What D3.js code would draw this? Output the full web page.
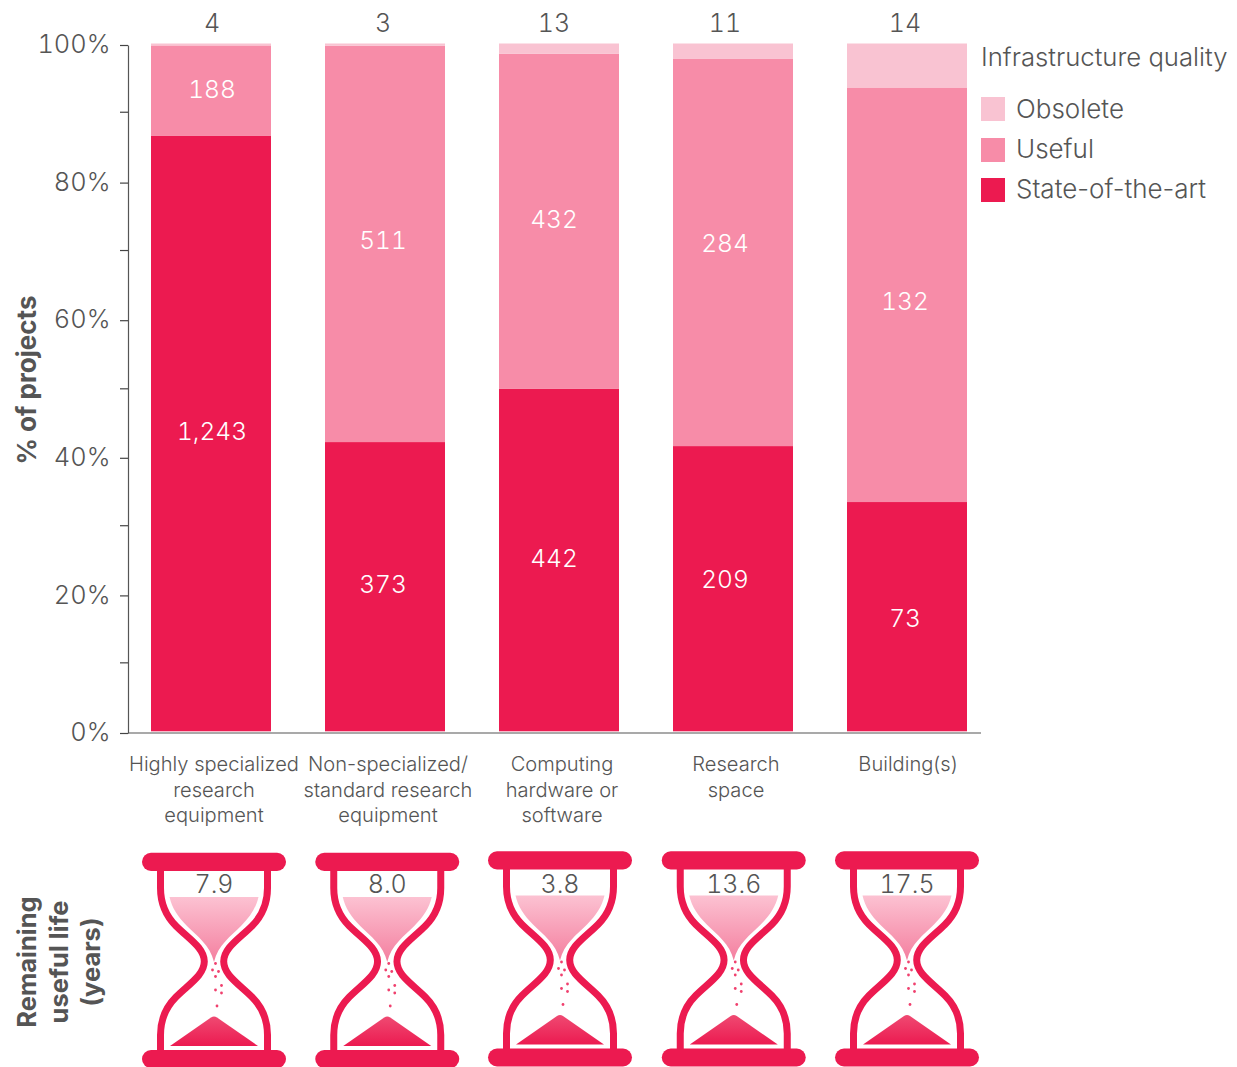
<!DOCTYPE html>
<html><head><meta charset="utf-8">
<script src="https://cdn.jsdelivr.net/npm/d3@7"></script>
<style>
html,body{margin:0;padding:0;background:#fff}
svg{display:block}
text{font-family:Inter,"Noto Sans",sans-serif;font-weight:300;fill:#555}
text.num,.tick text{font-variant-numeric:tabular-nums}
</style></head><body><svg id="c" width="1237" height="1067"></svg>
<script>
const categories = [
  ["Highly specialized","research","equipment"],
  ["Non-specialized/","standard research","equipment"],
  ["Computing","hardware or","software"],
  ["Research","space"],
  ["Building(s)"]
];
const stateOfTheArt = [1243,373,442,209,73];
const useful = [188,511,432,284,132];
const obsolete = [4,3,13,11,14];
const remainingLife = ["7.9","8.0","3.8","13.6","17.5"];
const yMajorTicks = [0,20,40,60,80,100];
const yMinorTicks = [10.27,30.2,50.1,70.2,90.3];
const seriesNames = ["Obsolete","Useful","State-of-the-art"];
const seriesColors = ["#f9c3d2","#f78ca8","#ec1a50"];

// hand-placement nudges seen in the reference
const labelShift = [1,-2,-5,-8,-2];
const stateLabelNudge = [-2,-3,-2,-10,1];
const usefulLabelNudge = [-1.5,-4,-2,-9,6];
const catShift = [0,0.5,1,1.5,0];
const glassShiftX = [0,0,-0.5,0,0];
const glassShiftY = [0,0,-1.5,-1.5,-1.5];

const svg = d3.select("#c");
const idx = d3.range(categories.length);
const x = d3.scalePoint().domain(idx).range([211,907]);
const barW = 120;
const yAxisScale = d3.scaleLinear().domain([0,100]).range([733,45]);
const yBar = d3.scaleLinear().domain([0,1]).range([731.3,43.5]);

// axis
const axis = d3.axisLeft(yAxisScale).tickValues([...yMajorTicks,...yMinorTicks]).tickSize(0)
  .tickFormat(d=>yMajorTicks.includes(d)?d+"%":"");
const gA = svg.append("g").attr("transform","translate(128,0)").call(axis);
gA.select(".domain").attr("stroke","#555").attr("stroke-width",1.2);
gA.selectAll(".tick line").attr("x2",-8).attr("stroke","#444").attr("stroke-width",1.2);
gA.selectAll(".tick text").attr("x",-17.5).attr("dy","0.3em").attr("font-size",25.4)
  .style("font-family",'Inter,sans-serif').style("font-weight",300);
svg.append("line").attr("x1",128).attr("x2",981).attr("y1",733).attr("y2",733).attr("stroke","#555").attr("stroke-width",1.2);

// stacked bars
idx.forEach(i=>{
  const total = stateOfTheArt[i]+useful[i]+obsolete[i];
  const a = stateOfTheArt[i]/total, b = useful[i]/total;
  const cx = x(i), lx = cx+labelShift[i];
  const g = svg.append("g");
  const segs = [[0,a,seriesColors[2]],[a,a+b,seriesColors[1]],[a+b,1,seriesColors[0]]];
  g.selectAll("rect").data(segs).join("rect")
    .attr("x",cx-barW/2).attr("width",barW)
    .attr("y",d=>yBar(d[1])).attr("height",d=>yBar(d[0])-yBar(d[1]))
    .attr("fill",d=>d[2]);
  g.append("text").attr("class","num").attr("x",lx).attr("y",yBar(a/2)+9+stateLabelNudge[i]).attr("text-anchor","middle")
    .attr("font-size",24.5).style("fill","#fff").text(d3.format(",")(stateOfTheArt[i]));
  g.append("text").attr("class","num").attr("x",lx).attr("y",yBar(a+b/2)+9+usefulLabelNudge[i]).attr("text-anchor","middle")
    .attr("font-size",24.5).style("fill","#fff").text(useful[i]);
  g.append("text").attr("class","num").attr("x",lx).attr("y",32).attr("text-anchor","middle")
    .attr("font-size",25).text(obsolete[i]);
});

// category labels
const xCat = d3.scalePoint().domain(idx).range([214,908]);
categories.forEach((lines,i)=>{
  lines.forEach((t,j)=>{
    svg.append("text").attr("x",xCat(i)+catShift[i]).attr("y",771+j*25.5).attr("text-anchor","middle")
      .attr("font-size",20.1).text(t);
  });
});

// legend
svg.append("text").attr("x",981).attr("y",66).attr("font-size",25.7).text("Infrastructure quality");
seriesNames.forEach((n,i)=>{
  const rectY = [97,138,178][i], baseY = [118,158,198][i];
  svg.append("rect").attr("x",981).attr("y",rectY).attr("width",24).attr("height",24).attr("fill",seriesColors[i]);
  svg.append("text").attr("x",1016).attr("y",baseY).attr("font-size",26).text(n);
});

// axis titles
svg.append("text").attr("transform","translate(36,380) rotate(-90)").attr("text-anchor","middle")
  .attr("font-size",26).style("font-weight",700).text("% of projects");
["Remaining","useful life","(years)"].forEach((t,i)=>{
  svg.append("text").attr("transform",`translate(${36+i*32},962) rotate(-90)`).attr("text-anchor","middle")
    .attr("font-size",25.5).style("font-weight",700).text(t);
});

// hourglasses
const defs = svg.append("defs");
const g1 = defs.append("linearGradient").attr("id","sandTop").attr("x1",0).attr("x2",0).attr("y1",0).attr("y2",1);
g1.append("stop").attr("offset",0).attr("stop-color","#fcc2d2");
g1.append("stop").attr("offset",1).attr("stop-color","#f47f9f");
const g2 = defs.append("linearGradient").attr("id","sandBottom").attr("x1",0).attr("x2",0).attr("y1",0).attr("y2",1);
g2.append("stop").attr("offset",0).attr("stop-color","#ef4a72");
g2.append("stop").attr("offset",1).attr("stop-color","#ec1a50");

const xGlass = d3.scalePoint().domain(idx).range([214,907]);
const red = "#ec1a50";
const outline = s => `M${s*53.5},868 L${s*53.5},888 C${s*53.5},905 ${s*48},916 ${s*38},926 C${s*25},939 ${s*9.7},948 ${s*9.7},961.5 C${s*9.7},975 ${s*25},984 ${s*38},997 C${s*48},1007 ${s*53.5},1018 ${s*53.5},1035 L${s*53.5},1052`;
const drops = [[1.5,963.5],[-1.5,970],[4.5,971.5],[1.5,976.5],[7.5,985.5],[1.5,990],[7.5,993],[3,1006]];
idx.forEach(i=>{
  const g = svg.append("g").attr("transform",`translate(${xGlass(i)+glassShiftX[i]},${glassShiftY[i]})`);
  g.append("path").attr("d",outline(-1)).attr("fill","none").attr("stroke",red).attr("stroke-width",7);
  g.append("path").attr("d",outline(1)).attr("fill","none").attr("stroke",red).attr("stroke-width",7);
  g.append("rect").attr("x",-72).attr("y",852.8).attr("width",144).attr("height",18.2).attr("rx",9).attr("fill",red);
  g.append("rect").attr("x",-72).attr("y",1050).attr("width",144).attr("height",18).attr("rx",9).attr("fill",red);
  g.append("path").attr("d","M-44.5,897 L44.5,897 C42,908 36,917 27,926 C17,936 4,945 0,962 C-4,945 -17,936 -27,926 C-36,917 -42,908 -44.5,897 Z").attr("fill","url(#sandTop)");
  g.append("path").attr("d","M-44,1046 L-3,1017.5 Q0,1015.5 3,1017.5 L44,1046 Z").attr("fill","url(#sandBottom)");
  g.selectAll("circle").data(drops).join("circle").attr("cx",d=>d[0]).attr("cy",d=>d[1]).attr("r",1.4).attr("fill","#f0406e");
  g.append("text").attr("class","num").attr("x",0).attr("y",893-glassShiftY[i]).attr("text-anchor","middle").attr("font-size",25).text(remainingLife[i]);
});
</script></body></html>
